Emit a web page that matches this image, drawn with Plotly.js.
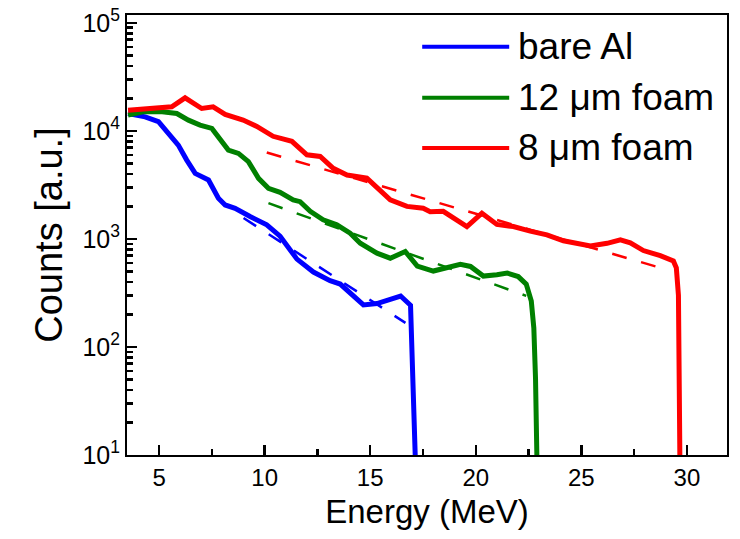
<!DOCTYPE html>
<html>
<head>
<meta charset="utf-8">
<script src="https://cdn.plot.ly/plotly-3.0.1.min.js"></script>
<style>html,body{margin:0;padding:0;background:#fff;}#chart{width:740px;height:539px;}</style>
</head>
<body>
<div id="chart"></div>
<script>
// ---- data ----
const seriesNames = ["bare Al", "12 \u03bcm foam", "8 \u03bcm foam"];

const energyAl = [3.53, 4.34, 4.97, 5.44, 5.91, 6.31, 6.71, 7.34, 7.81, 8.13, 8.60, 9.31, 10.10, 10.73, 11.53, 12.31, 13.10, 13.58, 14.05, 14.68, 15.32, 15.95, 16.44, 16.91, 16.99, 17.10, 17.18];
const countsAl = [14490, 13490, 12140, 9460, 7380, 5360, 4040, 3510, 2380, 2060, 1920, 1610, 1350, 1060, 650, 493, 411, 382, 315, 245, 252, 272, 296, 243, 103, 33, 5];

const energy12 = [3.53, 4.24, 5.05, 5.84, 6.39, 6.94, 7.50, 7.97, 8.28, 8.76, 9.23, 9.71, 10.18, 10.73, 11.35, 11.68, 12.16, 12.77, 13.42, 14.05, 14.53, 15.32, 15.95, 16.66, 17.23, 17.99, 18.46, 19.27, 19.75, 20.36, 21.00, 21.49, 22.01, 22.39, 22.63, 22.75, 22.83, 22.92];
const counts12 = [13960, 15000, 15100, 14480, 12560, 11290, 10520, 7930, 6640, 6180, 5190, 3630, 2940, 2700, 2290, 2210, 1800, 1500, 1350, 1130, 913, 738, 663, 765, 560, 504, 536, 583, 556, 453, 466, 483, 448, 382, 266, 150, 51, 5];

const energy8 = [3.53, 4.57, 5.60, 6.23, 7.02, 7.56, 8.13, 8.98, 9.63, 10.40, 11.29, 12.00, 12.63, 13.25, 13.90, 14.84, 15.47, 15.95, 16.74, 17.51, 17.84, 18.46, 19.58, 20.29, 21.00, 21.78, 22.58, 23.37, 24.15, 25.43, 26.22, 26.85, 27.32, 27.94, 28.74, 29.36, 29.50, 29.60, 29.64, 29.68];
const counts8 = [15500, 16100, 16700, 20200, 16100, 16700, 14200, 12600, 11000, 8900, 8000, 6000, 5800, 4500, 3900, 3650, 2850, 2300, 2000, 1920, 1780, 1800, 1300, 1730, 1360, 1300, 1180, 1090, 960, 860, 910, 980, 920, 780, 700, 625, 540, 300, 40, 5];

// exponential fits (end points)
const fitEnergyAl = [9.0, 16.67];
const fitCountsAl = [1563, 167];
const fitEnergy12 = [10.18, 22.39];
const fitCounts12 = [2140, 297];
const fitEnergy8 = [10.10, 28.74];
const fitCounts8 = [6300, 540];

const yTickVals = [10, 100, 1000, 10000, 100000];
const yTickText = ["10<sup>1</sup>", "10<sup>2</sup>", "10<sup>3</sup>", "10<sup>4</sup>", "10<sup>5</sup>"];
const xTickVals = [5, 10, 15, 20, 25, 30];

const colors = ["#0000ff", "#008000", "#ff0000"];
const FONT = "Liberation Sans, Arial, sans-serif";

const yMinor = [];
for (let d = 1; d < 5; d++) for (let k = 2; k <= 9; k++) yMinor.push(k * Math.pow(10, d));
const xMinor = [];
for (let v = 7.5; v < 32; v += 5) xMinor.push(v);

function curve(x, y, c, name) {
  return {x: x, y: y, type: "scatter", mode: "lines", name: name,
          line: {color: c, width: 5}, hoverinfo: "skip"};
}
function fit(x, y, c) {
  return {x: x, y: y, type: "scatter", mode: "lines", showlegend: false,
          line: {color: c, width: 2.5, dash: "15px,15px"}, hoverinfo: "skip"};
}

const data = [
  curve(energyAl, countsAl, colors[0], seriesNames[0]),
  curve(energy12, counts12, colors[1], seriesNames[1]),
  curve(energy8, counts8, colors[2], seriesNames[2]),
  fit(fitEnergyAl, fitCountsAl, colors[0]),
  fit(fitEnergy12, fitCounts12, colors[1]),
  fit(fitEnergy8, fitCounts8, colors[2])
];

const legendRows = [0.928, 0.812, 0.698];
const shapes = [];
const annotations = [];
for (let i = 0; i < 3; i++) {
  shapes.push({type: "line", xref: "paper", yref: "paper",
               x0: 0.492, x1: 0.637, y0: legendRows[i], y1: legendRows[i],
               line: {color: colors[i], width: 4}});
  annotations.push({xref: "paper", yref: "paper", x: 0.648, y: legendRows[i],
                    xanchor: "left", yanchor: "middle", showarrow: false,
                    text: seriesNames[i], font: {family: FONT, size: 37, color: "#000"}});
}

const layout = {
  width: 740, height: 539,
  margin: {l: 127, r: 13, t: 15, b: 84},
  paper_bgcolor: "#fff", plot_bgcolor: "#fff",
  showlegend: false,
  font: {family: FONT, color: "#000"},
  xaxis: {
    range: [3.48, 31.9], showgrid: false, zeroline: false,
    showline: true, linecolor: "#000", linewidth: 2, mirror: true,
    ticks: "inside", ticklen: 10, tickwidth: 2.5, tickcolor: "#000",
    tickmode: "array", tickvals: xTickVals,
    minor: {tickmode: "array", tickvals: xMinor, ticks: "inside", ticklen: 6, tickwidth: 2.5, tickcolor: "#000"},
    tickfont: {family: FONT, size: 24, color: "#000"},
    title: {text: "Energy (MeV)", font: {family: FONT, size: 33, color: "#000"}, standoff: 10}
  },
  yaxis: {
    type: "log", range: [1, 5.072], showgrid: false, zeroline: false,
    showline: true, linecolor: "#000", linewidth: 2, mirror: true,
    ticks: "inside", ticklen: 10, tickwidth: 2.5, tickcolor: "#000",
    tickmode: "array", tickvals: yTickVals, ticktext: yTickText,
    minor: {tickmode: "array", tickvals: yMinor, ticks: "inside", ticklen: 6, tickwidth: 2.5, tickcolor: "#000"},
    tickfont: {family: FONT, size: 25, color: "#000"},
    title: {text: "Counts [a.u.]", font: {family: FONT, size: 38, color: "#000"}, standoff: 8}
  },
  shapes: shapes,
  annotations: annotations
};

Plotly.newPlot("chart", data, layout, {staticPlot: true, displayModeBar: false});
</script>
</body>
</html>
